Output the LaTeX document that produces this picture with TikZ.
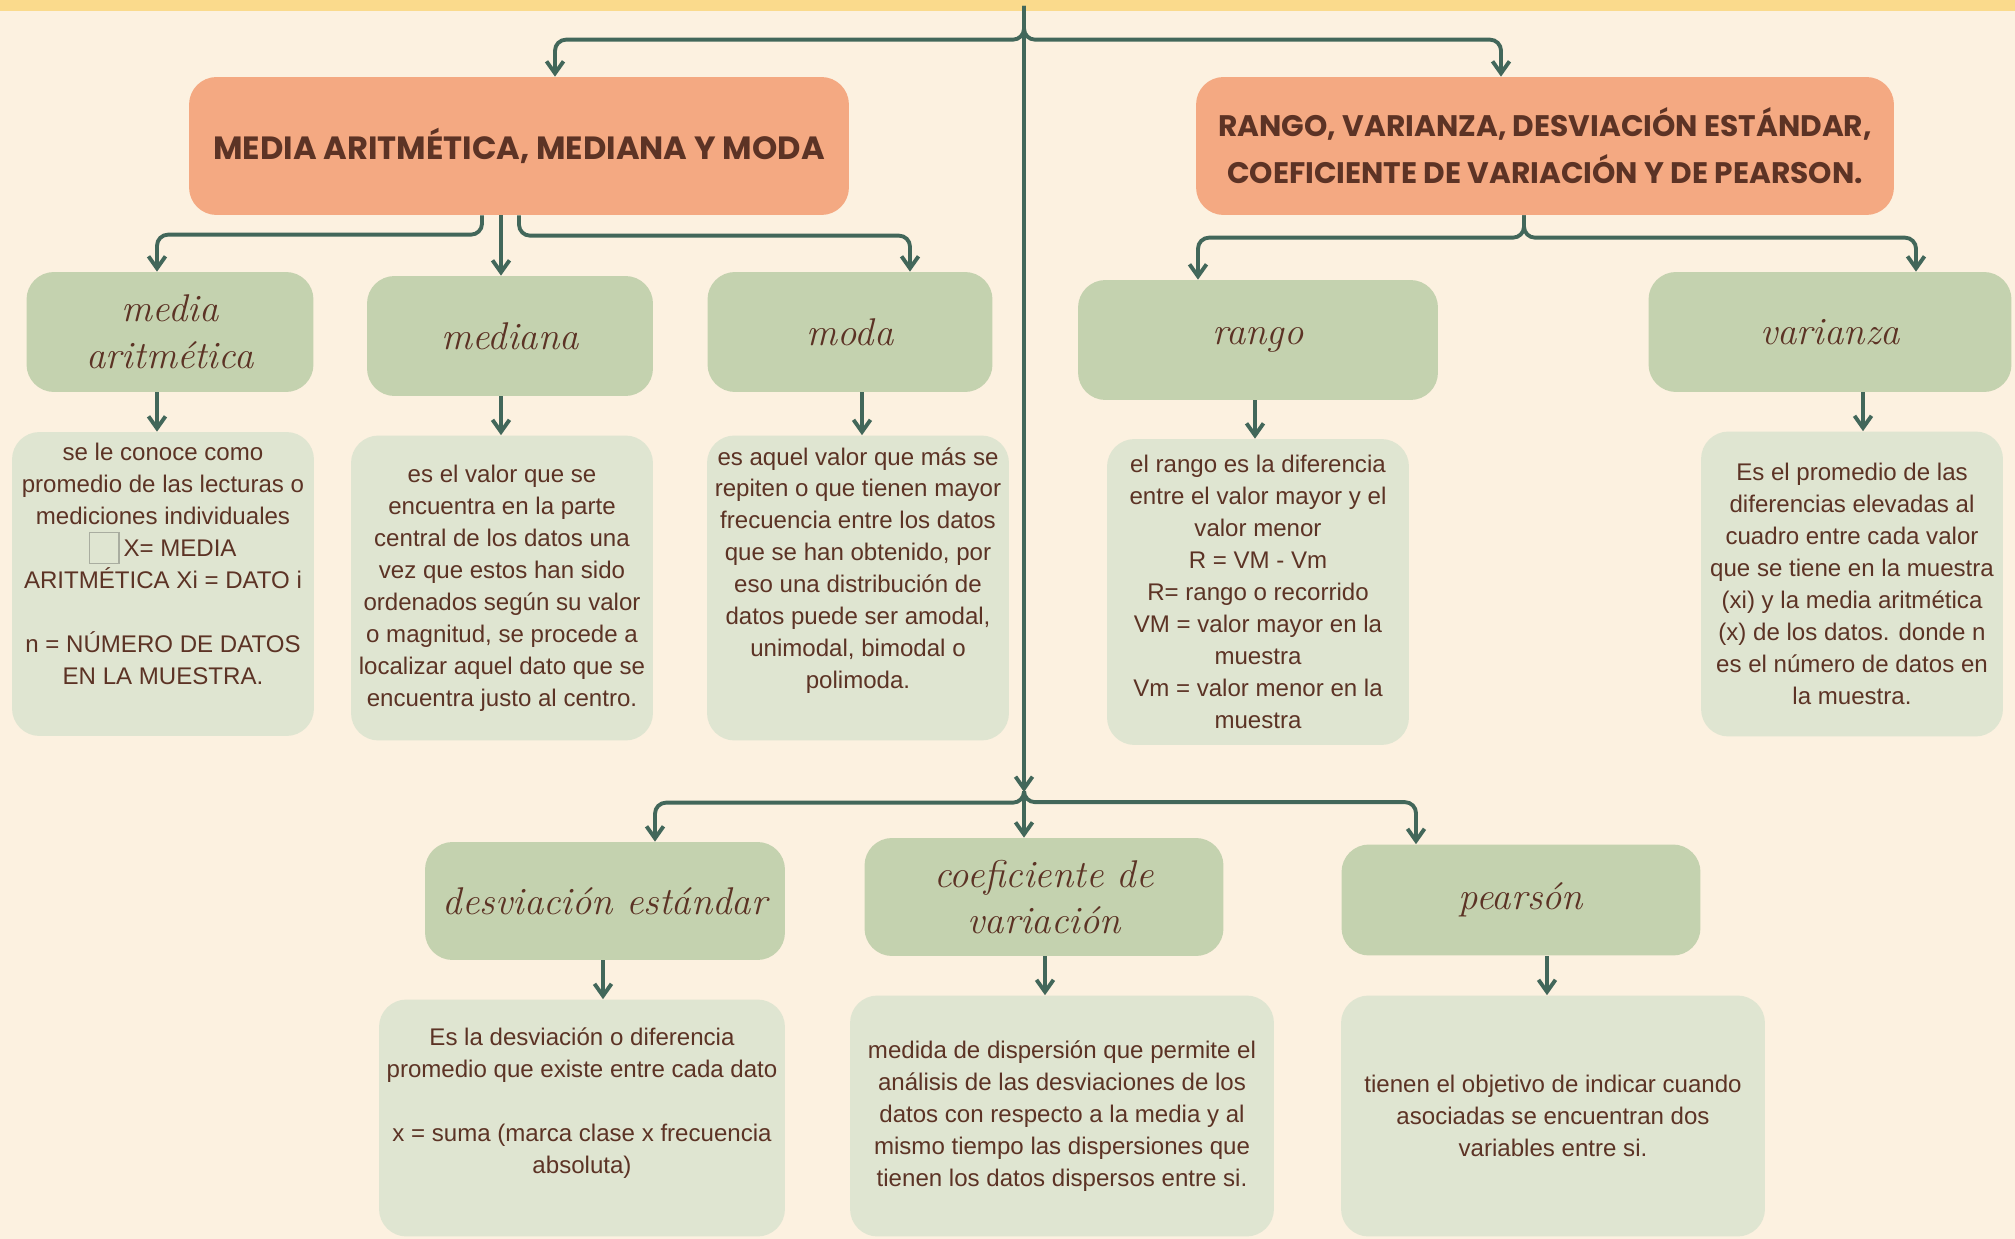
\documentclass[tikz,border=0pt]{standalone}
\usepackage{fontspec}
\usetikzlibrary{arrows.meta,positioning,calc}
\newfontfamily\headfont{Poppins}
\newfontfamily\bodyfont{Liberation Sans}
\definecolor{cream}{HTML}{FCF1E0}
\definecolor{band}{HTML}{FADA8C}
\definecolor{salmon}{HTML}{F4A982}
\definecolor{sage}{HTML}{C4D2AF}
\definecolor{sagelight}{HTML}{DFE5D1}
\definecolor{pine}{HTML}{42675A}
\definecolor{cocoa}{HTML}{5C3325}
\definecolor{glyphgray}{HTML}{A9ADA0}
\newcommand{\glyphbox}{\raisebox{-0.12cm}{\setlength{\fboxsep}{0pt}\setlength{\fboxrule}{0.6pt}\fcolorbox{glyphgray}{sagelight}{\rule{0pt}{0.6cm}\hspace{0.56cm}}}}

\begin{document}
\begin{tikzpicture}[x=0.02cm, y=-0.02cm,
  head/.style={rectangle, rounded corners=0.55cm, fill=salmon, text=cocoa, align=center,
    font=\headfont\bfseries\fontsize{#1}{26.6}\selectfont, minimum height=2.76cm},
  topic/.style={rectangle, rounded corners=0.55cm, fill=sage, text=cocoa, align=center,
    font=\itshape\fontsize{22}{26.6}\selectfont, minimum width=#1, minimum height=2.4cm},
  note/.style={rectangle, rounded corners=0.55cm, fill=sagelight, text=cocoa, align=center,
    inner xsep=2pt, font=\bodyfont\fontsize{13.7}{18.2}\selectfont, minimum width=#1},
  arr/.style={-{Straight Barb[length=2.4mm,width=3.4mm]}, line width=2.2pt, pine, rounded corners=0.22cm}
]
  \useasboundingbox (0,0) rectangle (2015,1239);
  \fill[cream] (0,0) rectangle (2015,1239);
  \fill[band] (0,0) rectangle (2015,11);

  \node[head=18.3, minimum width=13.2cm] (hmedia) at (519,146) {MEDIA ARITMÉTICA, MEDIANA Y MODA};
  \node[head=16.9, minimum width=13.96cm] (hrango) at (1545,146) {RANGO, VARIANZA, DESVIACIÓN ESTÁNDAR,\\COEFICIENTE DE VARIACIÓN Y DE PEARSON.};

  \node[topic=5.74cm] (tmedia) at (170,332) {media\\aritmética};
  \node[topic=5.72cm] (tmediana) at (510,336) {mediana};
  \node[topic=5.7cm] (tmoda) at (850,332) {moda};
  \node[topic=7.2cm] (trango) at (1258,340) {rango};
  \node[topic=7.26cm] (tvarianza) at (1830,332) {varianza};
  \node[topic=7.2cm, minimum height=2.36cm] (tdesv) at (605,901) {desviación estándar};
  \node[topic=7.18cm, minimum height=2.36cm] (tcoef) at (1044,897) {coeficiente de\\variación};
  \node[topic=7.18cm, minimum height=2.22cm] (tpearson) at (1521,900) {pearsón};

  \node[note=6.04cm, minimum height=6.08cm] (nmedia) at (163,584) {se le conoce como\\promedio de las lecturas o\\mediciones individuales\\\glyphbox\,X= MEDIA\\ARITMÉTICA Xi = DATO i\\[18.2pt]n = NÚMERO DE DATOS\\EN LA MUESTRA.\\[4.5pt]\mbox{}};
  \node[note=6.04cm, minimum height=6.1cm] (nmediana) at (502,588) {es el valor que se\\encuentra en la parte\\central de los datos una\\vez que estos han sido\\ordenados según su valor\\o magnitud, se procede a\\localizar aquel dato que se\\encuentra justo al centro.};
  \node[note=6.04cm, minimum height=6.1cm] (nmoda) at (858,588) {es aquel valor que más se\\repiten o que tienen mayor\\frecuencia entre los datos\\que se han obtenido, por\\eso una distribución de\\datos puede ser amodal,\\unimodal, bimodal o\\polimoda.\\[4.5pt]\mbox{}};
  \node[note=6.04cm, minimum height=6.12cm] (nrango) at (1258,592) {el rango es la diferencia\\entre el valor mayor y el\\valor menor\\R = VM - Vm\\R= rango o recorrido\\VM = valor mayor en la\\muestra\\Vm = valor menor en la\\muestra};
  \node[note=6.04cm, minimum height=6.1cm] (nvarianza) at (1852,584) {Es el promedio de las\\diferencias elevadas al\\cuadro entre cada valor\\que se tiene en la muestra\\(xi) y la media aritmética\\(x) de los datos. donde n\\es el número de datos en\\la muestra.};
  \node[note=8.12cm, minimum height=4.74cm] (ndesv) at (582,1118) {Es la desviación o diferencia\\promedio que existe entre cada dato\\[18.2pt]x = suma (marca clase x frecuencia\\absoluta)\\[2pt]\mbox{}};
  \node[note=8.48cm, minimum height=4.82cm] (ncoef) at (1062,1116) {medida de dispersión que permite el\\análisis de las desviaciones de los\\datos con respecto a la media y al\\mismo tiempo las dispersiones que\\tienen los datos dispersos entre si.};
  \node[note=8.48cm, minimum height=4.82cm] (npearson) at (1553,1116) {tienen el objetivo de indicar cuando\\asociadas se encuentran dos\\variables entre si.};

  % trunk and branches
  \coordinate (top) at (1024,6);
  \coordinate (hub) at (1024,792);
  \draw[arr] (top) |- ($(hmedia.north)+(36,-37)$) -- ($(hmedia.north)+(36,0)$);
  \draw[arr] (top) |- ($(hrango.north)+(-44,-37)$) -- ($(hrango.north)+(-44,0)$);
  \draw[arr] (top) -- (hub);
  \draw[arr] (hub) |- ($(tdesv.north)+(50,-39)$) -- ($(tdesv.north)+(50,0)$);
  \draw[arr] (hub) -- (hub |- tcoef.north);
  \draw[arr] (hub) |- ($(tpearson.north)+(-105,-42)$) -- ($(tpearson.north)+(-105,0)$);

  \draw[arr] ($(hmedia.south)+(-37,0)$) |- ($(tmedia.north)+(-13,-37)$) -- ($(tmedia.north)+(-13,0)$);
  \draw[arr] ($(hmedia.south)+(-18,0)$) -- ($(tmediana.north)+(-9,0)$);
  \draw[arr] (hmedia.south) |- ($(tmoda.north)+(60,-36)$) -- ($(tmoda.north)+(60,0)$);
  \draw[arr] ($(hrango.south)+(-21,0)$) |- ($(trango.north)+(-60,-42)$) -- ($(trango.north)+(-60,0)$);
  \draw[arr] ($(hrango.south)+(-21,0)$) |- ($(tvarianza.north)+(86,-34)$) -- ($(tvarianza.north)+(86,0)$);

  \foreach \k/\dx in {media/-13, mediana/-9, moda/12, rango/-3, varianza/33, desv/-2, coef/1, pearson/26} {
    \draw[arr] ([xshift=\dx*0.02cm]t\k.south) -- ([xshift=\dx*0.02cm]t\k.south |- n\k.north);
  }
\end{tikzpicture}
\end{document}
